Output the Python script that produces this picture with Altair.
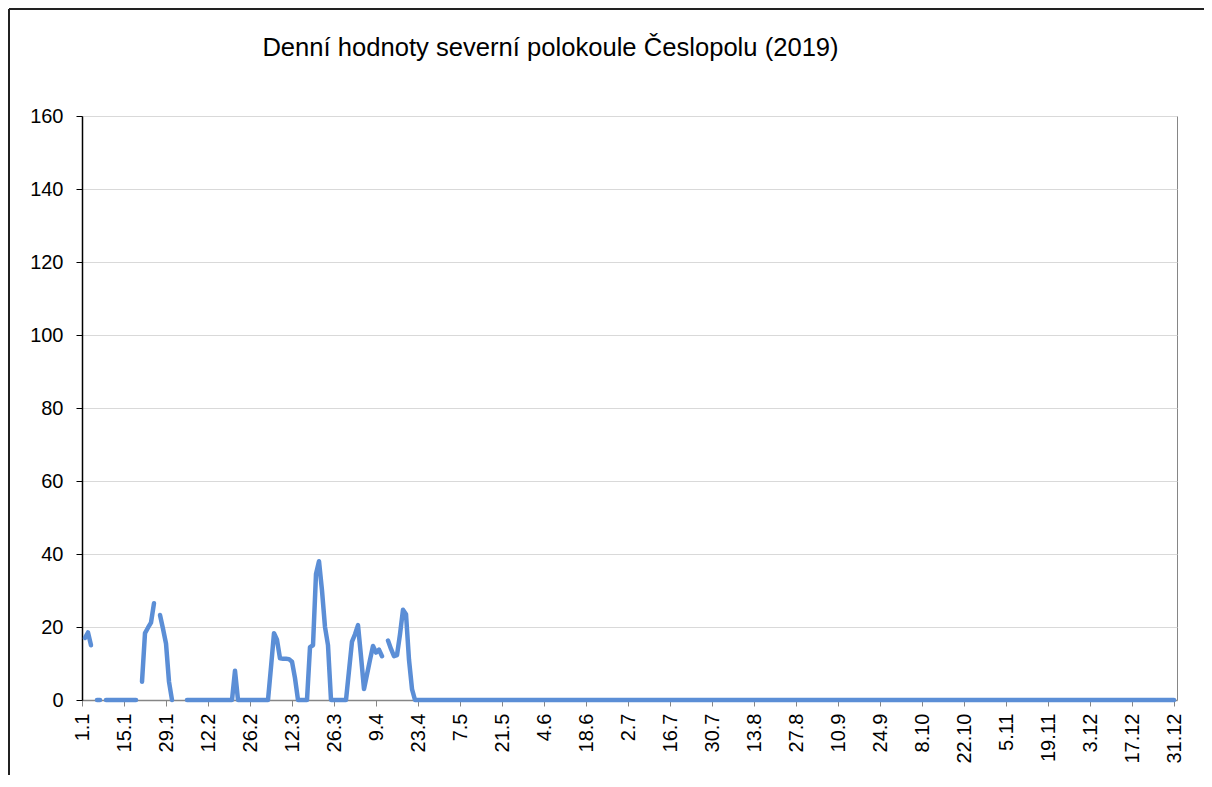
import altair as alt
import pandas as pd

title_text = "Denní hodnoty severní polokoule Česlopolu (2019)"

tick_days = [1, 15, 29, 43, 57, 71, 85, 99, 113, 127, 141, 155, 169, 183,
             197, 211, 225, 239, 253, 267, 281, 295, 309, 323, 337, 351, 365]
tick_labels = ["1.1", "15.1", "29.1", "12.2", "26.2", "12.3", "26.3", "9.4",
               "23.4", "7.5", "21.5", "4.6", "18.6", "2.7", "16.7", "30.7",
               "13.8", "27.8", "10.9", "24.9", "8.10", "22.10", "5.11",
               "19.11", "3.12", "17.12", "31.12"]
y_ticks = [0, 20, 40, 60, 80, 100, 120, 140, 160]

# daily values for days 1..120 (None = no value that day)
values_jan_apr = [
    None, 17, 18.5, 15, None, 0, 0, None, 0, 0,          # 1-10
    0, 0, 0, 0, 0, 0, 0, 0, 0, None,                     # 11-20
    5, 18.3, 19.8, 21.2, 26.5, None, 23.3, 19.5, 15.5, 5,  # 21-30
    0, None, None, None, None, 0, 0, 0, 0, 0,            # 31-40
    0, 0, 0, 0, 0, 0, 0, 0, 0, 0,                        # 41-50
    0, 8, 0, 0, 0, 0, 0, 0, 0, 0,                        # 51-60
    0, 0, 0, 9, 18.3, 16.5, 11.4, 11.3, 11.3, 11.2,      # 61-70
    10.5, 6, 0, 0, 0, 0, 14.5, 15, 34.5, 38,             # 71-80
    30, 20, 15, 0, 0, 0, 0, 0, 0, 8,                     # 81-90
    16, 18, 20.5, 12, 3, 7, 11, 14.8, 13, 13.8,          # 91-100
    12, None, 16.3, 14, 12, 12.3, 18, 24.7, 23.5, 11,    # 101-110
    3, 0, 0, 0, 0, 0, 0, 0, 0, 0,                        # 111-120
]
# days 121..365: the line stays at zero
values_rest = [0] * 245

all_values = values_jan_apr + values_rest

rows = []
seg = 0
for i, v in enumerate(all_values):
    if v is None:
        seg += 1
        continue
    rows.append({"day": i + 1, "value": v, "seg": seg})
df = pd.DataFrame(rows)

label_expr = "[" + ",".join("'" + t + "'" for t in tick_labels) + "][round((datum.value - 1) / 14)]"

FONT = "Liberation Sans"

line = alt.Chart(df).mark_line(
    color="#5B8ED6", strokeWidth=4.5, strokeCap="round", strokeJoin="round"
).encode(
    x=alt.X("day:Q",
            scale=alt.Scale(domain=[1, 366], nice=False, zero=False),
            axis=alt.Axis(values=tick_days, labelExpr=label_expr, labelAngle=-90,
                          labelOverlap=False, labelFlush=False, labelPadding=7,
                          tickSize=6, tickColor="#868686", domainColor="#868686",
                          domainWidth=1.5, grid=False, labelFontSize=20,
                          labelFont=FONT, labelColor="#000000"),
            title=None),
    y=alt.Y("value:Q",
            scale=alt.Scale(domain=[0, 160], nice=False),
            axis=alt.Axis(values=y_ticks, tickSize=6, tickColor="#000000",
                          domainColor="#000000", domainWidth=1.5, labelPadding=13,
                          grid=True, gridColor="#d9d9d9", gridWidth=1,
                          labelFontSize=20, labelFont=FONT, labelColor="#000000"),
            title=None),
    detail="seg:N",
)

frame_left = alt.Chart(df).mark_rule(color="#222222", strokeWidth=1.2).encode(
    x=alt.value(-73), y=alt.value(-107), y2=alt.value(700)
)
frame_top = alt.Chart(df).mark_rule(color="#222222", strokeWidth=1.2).encode(
    x=alt.value(-73), x2=alt.value(1122), y=alt.value(-107)
)

chart = alt.layer(line, frame_left, frame_top).properties(
    width=1095,
    height=584,
    autosize=alt.AutoSizeParams(type="none"),
    padding={"left": 74, "top": 108, "right": 27, "bottom": 75},
    title=alt.TitleParams(title_text, fontSize=25.6, font=FONT, fontWeight="normal",
                          color="#000000", anchor="middle", frame="group", dx=-79,
                          baseline="alphabetic", offset=0, dy=73),
).configure_view(
    stroke="#868686", strokeWidth=1
)

chart.save("out.html", embed_options={"renderer": "svg", "actions": False})
